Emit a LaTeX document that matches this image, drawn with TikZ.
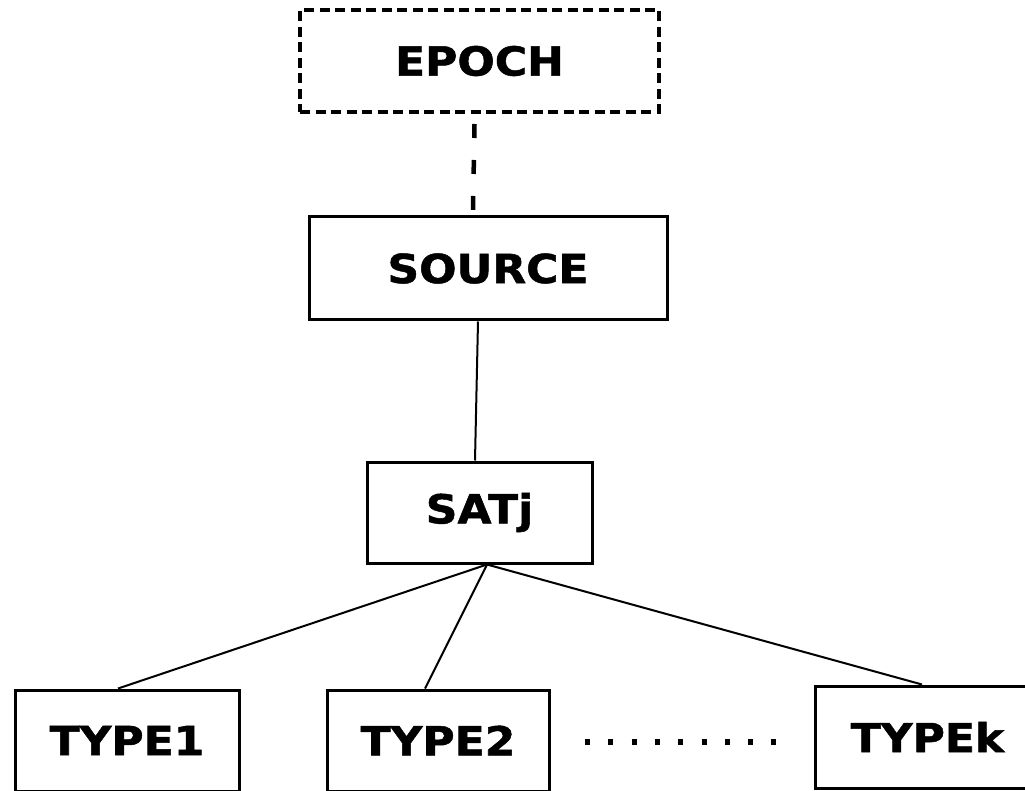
\documentclass[tikz,border=0pt]{standalone}
\usepackage{fontspec}
\usepackage{graphicx}
\setmainfont{DejaVu Sans}
\newfontfamily\labfont{DejaVu Sans Bold}[FakeBold=1.2]
\usetikzlibrary{calc}
\tikzset{
  box/.style={draw=black, line width=3pt, rectangle, inner sep=0pt,
              font=\fontsize{40}{44}\labfont},
  dashbox/.style={box, line width=3.2pt, dash pattern=on 10pt off 5.5pt},
  link/.style={draw=black, line width=2pt},
  dashlink/.style={draw=black, line width=4.5pt, dash pattern=on 14pt off 22pt},
  dotlink/.style={draw=black, line width=5.5pt, dash pattern=on 5pt off 18.3pt}
}
\newcommand{\wide}[1]{\scalebox{1.1}[1]{#1}}
\begin{document}
\begin{tikzpicture}[x=1pt,y=-1pt]
\clip (0,0) rectangle (1025,791);
\fill[white] (0,0) rectangle (1025,791);
\node[dashbox, minimum width=359pt, minimum height=102pt] (epoch) at (479.5,61) {\wide{EPOCH}};
\node[box, minimum width=358pt, minimum height=103pt] (source) at (488,268.5) {\wide{SOURCE}};
\node[box, minimum width=225pt, minimum height=101pt] (satj) at (479.5,512.5) {\wide{SATj}};
\node[box, minimum width=224pt, minimum height=101pt] (type1) at (127,740.5) {\wide{TYPE1}};
\node[box, minimum width=222pt, minimum height=101pt] (type2) at (438,740.5) {\wide{TYPE2}};
\node[box, minimum width=225pt, minimum height=102pt] (typek) at (927.5,737) {\wide{TYPEk}};
\coordinate (sb) at ($(satj.south)+(7.5,0)$);
\coordinate (dotA) at (585,742);
\coordinate (dotB) at (792,742);
\draw[dashlink] ($(epoch.south)+(-5,10.4)$) -- ($(source.north)+(-15,-5.6)$);
\draw[link] ($(source.south)+(-10,0)$) -- ($(satj.north)+(-4.5,0)$);
\draw[link] (sb) -- ($(type1.north)+(-9,0)$);
\draw[link] (sb) -- ($(type2.north)+(-13,0)$);
\draw[link] (sb) -- ($(typek.north)+(-5.5,0)$);
\draw[dotlink] (dotA) -- (dotB);
\end{tikzpicture}
\end{document}
